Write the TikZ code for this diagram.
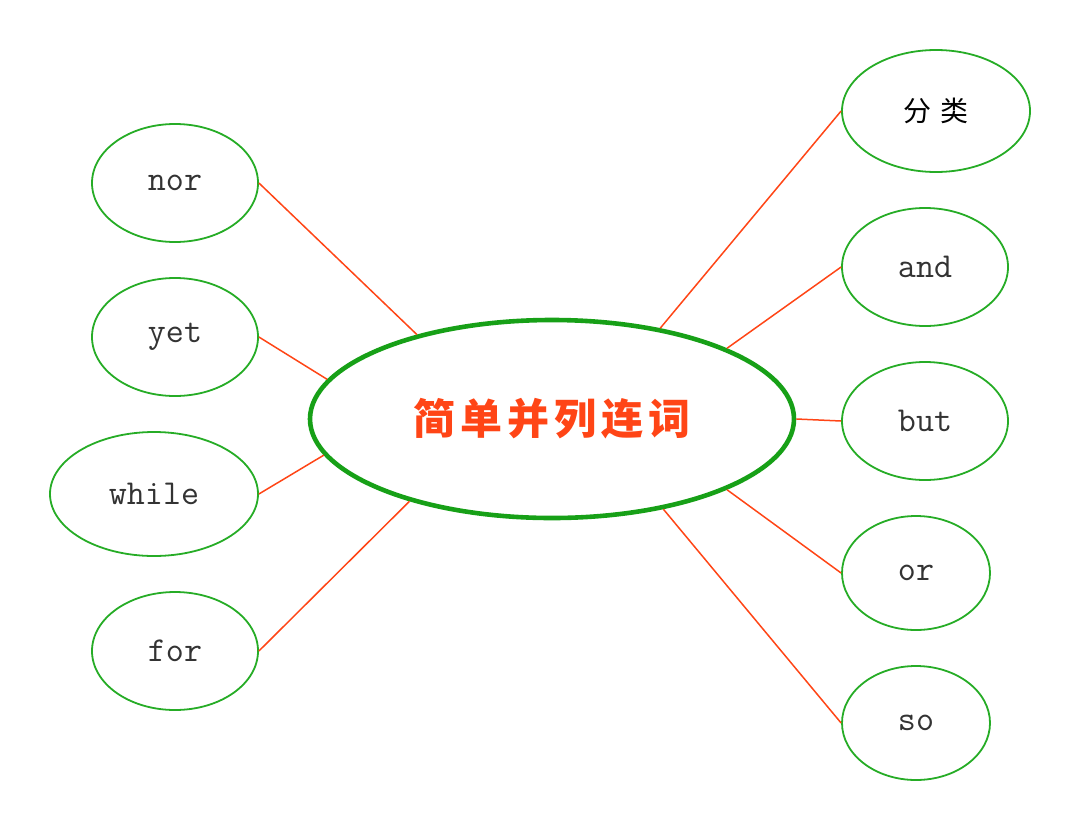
\documentclass[tikz,border=0pt]{standalone}
\usepackage{fontspec}
\newfontfamily\cjktitle[LetterSpace=12]{Noto Sans CJK SC}
\newfontfamily\cjkwide[LetterSpace=30]{Noto Sans CJK SC}
\usetikzlibrary{shapes.geometric}
\definecolor{hubgreen}{HTML}{17A017}
\definecolor{leafgreen}{HTML}{26AC26}
\definecolor{spokered}{HTML}{FF4516}
\definecolor{wordgray}{HTML}{333333}

\begin{document}
\begin{tikzpicture}[x=0.5pt,y=-0.5pt,
    leaf/.style={ellipse,draw=leafgreen,line width=0.9pt,inner sep=0pt,
      text=wordgray,font=\fontsize{17.5}{20}\selectfont\ttfamily},
    spoke/.style={draw=spokered,line width=0.75pt}]
    \useasboundingbox (0,0) rectangle (1080,830); % keeps the page size

    % the hub in the middle
    \node[ellipse,draw=hubgreen,line width=2.3pt,inner sep=0pt,
      minimum width=242pt,minimum height=99pt,text=spokered,
      font=\fontsize{21}{23}\selectfont\cjktitle\bfseries]
      (hub) at (552,419) {简单并列连词};

    % words on the left: name/x/y/half width/half height/angle on the hub
    \foreach \name/\x/\y/\w/\h/\ang in {nor/175/183/83/59/148,
        yet/175/337/83/59/170, while/154/494/104/62/189,
        for/175/651/83/59/210}{%
      \node[leaf,minimum width=\w pt,minimum height=\h pt]
        (w-\name) at (\x,\y) {\name};
      \draw[spoke] (w-\name.east) -- (hub.\ang);
    }

    % words on the right
    \foreach \name/\x/\y/\w/\h/\ang in {and/925/267/83/59/22,
        but/925/421/83/59/0, or/916/573/74/57/-22,
        so/916/723/74/57/-39}{%
      \node[leaf,minimum width=\w pt,minimum height=\h pt]
        (w-\name) at (\x,\y) {\name};
      \draw[spoke] (w-\name.west) -- (hub.\ang);
    }

    % the heading node at the top right
    \node[leaf,minimum width=94pt,minimum height=61pt,text=black,
      font=\fontsize{14}{16}\selectfont\cjkwide]
      (w-kind) at (936,111) {分类};
    \draw[spoke] (w-kind.west) -- (hub.40);
\end{tikzpicture}
\end{document}
